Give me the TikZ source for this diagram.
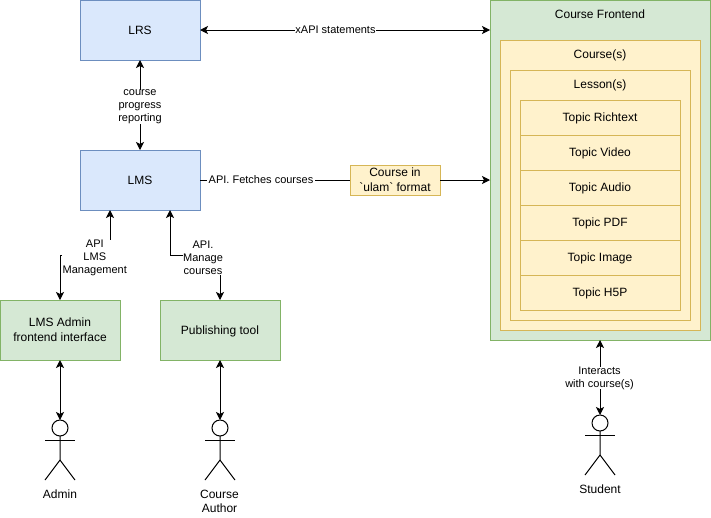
\documentclass[tikz,border=0pt]{standalone}
\usepackage{fontspec}
\setmainfont{Liberation Sans}
\usepackage{tikz}
\usetikzlibrary{arrows.meta}
\definecolor{bluefill}{HTML}{DAE8FC}
\definecolor{blueline}{HTML}{6C8EBF}
\definecolor{greenfill}{HTML}{D5E8D4}
\definecolor{greenline}{HTML}{82B366}
\definecolor{yellowfill}{HTML}{FFF2CC}
\definecolor{yellowline}{HTML}{D6B656}

\begin{document}
\begin{tikzpicture}[x=1pt, y=-1pt, node distance=35pt,
        box/.style = {draw, outer sep=0pt, inner sep=0pt, align=center, text depth=0pt, font=\fontsize{12}{15}\selectfont, line width=1pt},
        service/.style = {box, fill=bluefill, draw=blueline, minimum width=120pt, minimum height=60pt},
        app/.style = {box, fill=greenfill, draw=greenline, minimum width=120pt, minimum height=60pt},
        holder/.style = {box, fill=yellowfill, draw=yellowline},
        topic/.style = {holder, minimum width=160pt, minimum height=35pt},
        title/.style = {align=center, inner sep=0pt, text depth=0pt, font=\fontsize{12}{15}\selectfont},
        actorhead/.style = {draw, circle, outer sep=0pt, inner sep=0pt, minimum size=16pt, line width=1pt},
        actorname/.style = {align=center, inner sep=0pt, font=\fontsize{12}{14}\selectfont},
        edgetext/.style = {fill=white, align=center, inner sep=0pt, font=\fontsize{11}{13}\selectfont},
        link/.style = {line width=1pt, {Stealth[length=8pt,width=8pt,inset=2pt]}-{Stealth[length=8pt,width=8pt,inset=2pt]}},
        oneway/.style = {line width=1pt, -{Stealth[length=8pt,width=8pt,inset=2pt]}}]
    \useasboundingbox (0,0) rectangle (711,517);

    \node[service] (lrs) at (140,30) {LRS};
    \node[service] (lms) at (140,180) {LMS};
    \node[app] (lmsadmin) at (60,330) {LMS Admin\\frontend interface};
    \node[app] (publishing) at (220,330) {Publishing tool};

    \node[app, minimum width=220pt, minimum height=340pt] (frontend) at (600,170) {};
    \node[holder, minimum width=200pt, minimum height=290pt] (courses) at (600,185) {};
    \node[holder, minimum width=180pt, minimum height=250pt] (lessons) at (600,195) {};
    \node[title] (frontendtitle) at (600,14) {Course Frontend};
    \node[title] (coursestitle) at (600,54) {Course(s)};
    \node[title] (lessonstitle) at (600,84) {Lesson(s)};

    \node[topic] (richtext) at (600,117.5) {Topic Richtext};
    \node[topic] (video) [below of=richtext] {Topic Video};
    \node[topic] (audio) [below of=video] {Topic Audio};
    \node[topic] (pdf) [below of=audio] {Topic PDF};
    \node[topic] (image) [below of=pdf] {Topic Image};
    \node[topic] (hfivep) [below of=image] {Topic H5P};

    \node[holder, minimum width=90pt, minimum height=30pt] (ulam) at (395,180) {Course in\\\textasciigrave ulam\textasciigrave{} format};

    \foreach \name/\xpos/\ypos in {admin/60/428, author/220/428, student/600/423} {
        \node[actorhead] (\name) at (\xpos,\ypos) {};
        \draw[line width=1pt] (\name.south) -- ++(0,24) -- ++(-15,20);
        \draw[line width=1pt] (\name.south) ++(0,24) -- ++(15,20);
        \draw[line width=1pt] (\name.south) ++(-15,4) -- ++(30,0);
    }
    \node[actorname] (adminname) at (60,494) {Admin};
    \node[actorname] (authorname) at (219.5,501) {Course\\Author};
    \node[actorname] (studentname) at (600,489) {Student};

    \draw[link] (lrs.east) -- (lrs.east -| frontend.west);
    \draw[link] (lrs) -- (lms);
    \draw[line width=1pt] (lms.east) -- (ulam.west);
    \draw[oneway] (ulam.east) -- (ulam.east -| frontend.west);
    \draw[link] ([xshift=-30pt]lms.south) -- ++(0,45) -| (lmsadmin.north);
    \draw[link] ([xshift=30pt]lms.south) -- ++(0,45) -| (publishing.north);
    \draw[link] (lmsadmin) -- (admin);
    \draw[link] (publishing) -- (author);
    \draw[link] (frontend) -- (student);

    \node[edgetext] (xapilabel) at (335.5,30) {xAPI statements};
    \node[edgetext] (progresslabel) at (140,107) {course\\progress\\reporting};
    \node[edgetext] (fetcheslabel) at (261,180) {\,API. Fetches courses\,};
    \node[edgetext, inner xsep=0.3pt] (managementlabel) at (94.8,258) {API\\LMS\\Management};
    \node[edgetext] (manageslabel) at (203,258) {API.\\Manage\\courses};
    \node[edgetext] (interactslabel) at (599.5,378) {Interacts\\with course(s)};
\end{tikzpicture}
\end{document}
